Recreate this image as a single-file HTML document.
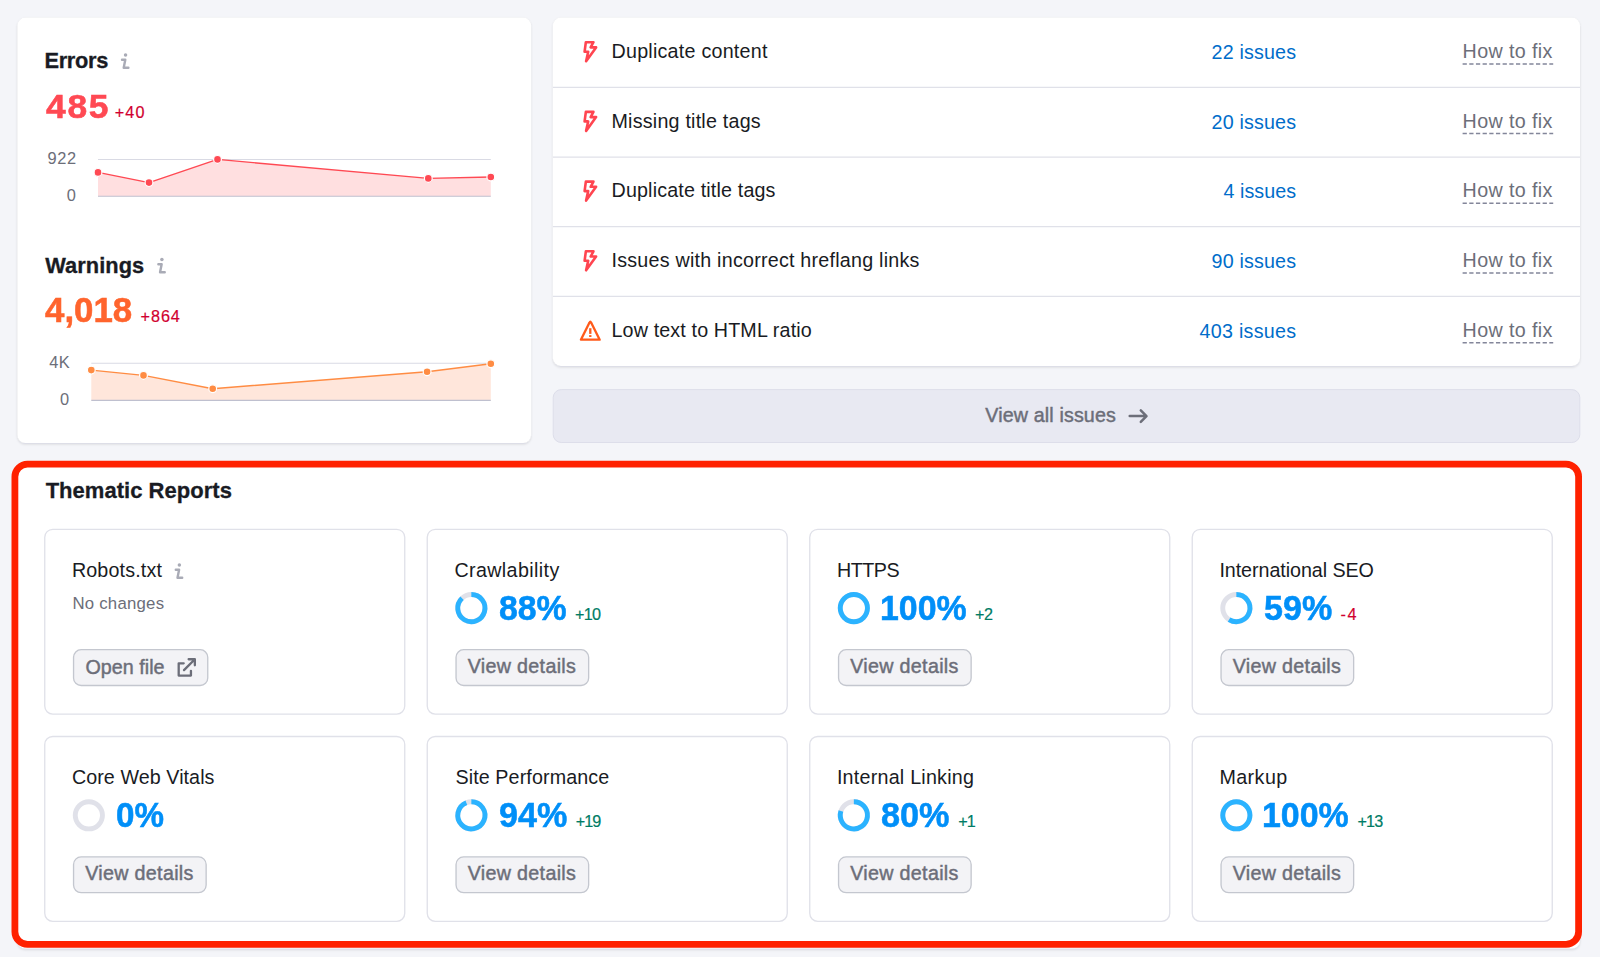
<!DOCTYPE html>
<html lang="en"><head><meta charset="utf-8"><title>Site Audit - Thematic Reports</title>
<style>
html,body{margin:0;padding:0}
body{width:1600px;height:957px;position:relative;overflow:hidden;background:#f4f5f9;font-family:"Liberation Sans",sans-serif;color:#191b23}
.t{position:absolute;white-space:pre;line-height:1;transform-origin:0 50%}
.med{-webkit-text-stroke:0.45px currentColor}
.sm{-webkit-text-stroke:0.2px currentColor}
.bt{-webkit-text-stroke:0.3px currentColor}
.big{-webkit-text-stroke:0.55px currentColor}
svg{position:absolute;left:0;top:0;overflow:visible}
</style></head><body>

<svg width="1600" height="957" viewBox="0 0 1600 957">
<defs><filter id="sh" x="-2%" y="-5%" width="104%" height="112%"><feDropShadow dx="0" dy="0" stdDeviation="0.7" flood-color="#191b23" flood-opacity="0.18"/><feDropShadow dx="0" dy="1.3" stdDeviation="1.2" flood-color="#191b23" flood-opacity="0.13"/></filter></defs>
<rect x="17.4" y="17.6" width="513.70" height="425.40" rx="8" fill="#fff" filter="url(#sh)"/>
<rect x="552.9" y="17.6" width="1027.10" height="348.30" rx="8" fill="#fff" filter="url(#sh)"/>
<line x1="552.9" x2="1580" y1="87.4" y2="87.4" stroke="#e0e1e9" stroke-width="1.33"/>
<line x1="552.9" x2="1580" y1="157.2" y2="157.2" stroke="#e0e1e9" stroke-width="1.33"/>
<line x1="552.9" x2="1580" y1="226.7" y2="226.7" stroke="#e0e1e9" stroke-width="1.33"/>
<line x1="552.9" x2="1580" y1="296.4" y2="296.4" stroke="#e0e1e9" stroke-width="1.33"/>
<rect x="553.2" y="389.6" width="1026.6" height="52.9" rx="8" fill="#e8e9f2" stroke="#dddeea" stroke-width="1"/>
<rect x="17.4" y="466" width="1562.60" height="482.60" rx="8" fill="#fff" filter="url(#sh)"/>
<rect x="14.9" y="464.2" width="1563.7" height="480.1" rx="12.6" fill="none" stroke="#ff2100" stroke-width="6.8"/>
<rect x="44.75" y="529.30" width="360" height="184.8" rx="8" fill="#fff" stroke="#e0e1e9" stroke-width="1.33"/>
<rect x="73.55" y="649.70" width="134.2" height="35.8" rx="7.6" fill="#f3f3f6" stroke="#c4c7cf" stroke-width="1.33"/>
<rect x="427.25" y="529.30" width="360" height="184.8" rx="8" fill="#fff" stroke="#e0e1e9" stroke-width="1.33"/>
<rect x="456.05" y="649.70" width="132.6" height="35.8" rx="7.6" fill="#f3f3f6" stroke="#c4c7cf" stroke-width="1.33"/>
<rect x="809.75" y="529.30" width="360" height="184.8" rx="8" fill="#fff" stroke="#e0e1e9" stroke-width="1.33"/>
<rect x="838.55" y="649.70" width="132.6" height="35.8" rx="7.6" fill="#f3f3f6" stroke="#c4c7cf" stroke-width="1.33"/>
<rect x="1192.25" y="529.30" width="360" height="184.8" rx="8" fill="#fff" stroke="#e0e1e9" stroke-width="1.33"/>
<rect x="1221.05" y="649.70" width="132.6" height="35.8" rx="7.6" fill="#f3f3f6" stroke="#c4c7cf" stroke-width="1.33"/>
<rect x="44.75" y="736.50" width="360" height="184.8" rx="8" fill="#fff" stroke="#e0e1e9" stroke-width="1.33"/>
<rect x="73.55" y="856.90" width="132.6" height="35.8" rx="7.6" fill="#f3f3f6" stroke="#c4c7cf" stroke-width="1.33"/>
<rect x="427.25" y="736.50" width="360" height="184.8" rx="8" fill="#fff" stroke="#e0e1e9" stroke-width="1.33"/>
<rect x="456.05" y="856.90" width="132.6" height="35.8" rx="7.6" fill="#f3f3f6" stroke="#c4c7cf" stroke-width="1.33"/>
<rect x="809.75" y="736.50" width="360" height="184.8" rx="8" fill="#fff" stroke="#e0e1e9" stroke-width="1.33"/>
<rect x="838.55" y="856.90" width="132.6" height="35.8" rx="7.6" fill="#f3f3f6" stroke="#c4c7cf" stroke-width="1.33"/>
<rect x="1192.25" y="736.50" width="360" height="184.8" rx="8" fill="#fff" stroke="#e0e1e9" stroke-width="1.33"/>
<rect x="1221.05" y="856.90" width="132.6" height="35.8" rx="7.6" fill="#f3f3f6" stroke="#c4c7cf" stroke-width="1.33"/>
<line x1="98" y1="159.5" x2="490.8" y2="159.5" stroke="#d9dae4" stroke-width="1.1"/>
<polygon points="98,196.2 98,172.4 149,182.6 217.5,159.4 428.3,178.4 490.8,177 490.8,196.2" fill="#ffdfe0"/>
<line x1="98" y1="196.2" x2="490.8" y2="196.2" stroke="#bfc0cf" stroke-width="1.15"/>
<polyline points="98,172.4 149,182.6 217.5,159.4 428.3,178.4 490.8,177" fill="none" stroke="#ff4953" stroke-width="1.4" stroke-linejoin="round"/>
<circle cx="98" cy="172.4" r="3.9" fill="#ff4953" stroke="#fff" stroke-width="1.2"/>
<circle cx="149" cy="182.6" r="3.9" fill="#ff4953" stroke="#fff" stroke-width="1.2"/>
<circle cx="217.5" cy="159.4" r="3.9" fill="#ff4953" stroke="#fff" stroke-width="1.2"/>
<circle cx="428.3" cy="178.4" r="3.9" fill="#ff4953" stroke="#fff" stroke-width="1.2"/>
<circle cx="490.8" cy="177" r="3.9" fill="#ff4953" stroke="#fff" stroke-width="1.2"/>
<line x1="91.3" y1="363.3" x2="490.8" y2="363.3" stroke="#d9dae4" stroke-width="1.1"/>
<polygon points="91.3,400.4 91.3,370.1 143.5,375.4 212.7,388.7 427.1,371.8 490.8,363.7 490.8,400.4" fill="#ffe6db"/>
<line x1="91.3" y1="400.4" x2="490.8" y2="400.4" stroke="#bfc0cf" stroke-width="1.15"/>
<polyline points="91.3,370.1 143.5,375.4 212.7,388.7 427.1,371.8 490.8,363.7" fill="none" stroke="#ff8c43" stroke-width="1.4" stroke-linejoin="round"/>
<circle cx="91.3" cy="370.1" r="3.9" fill="#ff8c43" stroke="#fff" stroke-width="1.2"/>
<circle cx="143.5" cy="375.4" r="3.9" fill="#ff8c43" stroke="#fff" stroke-width="1.2"/>
<circle cx="212.7" cy="388.7" r="3.9" fill="#ff8c43" stroke="#fff" stroke-width="1.2"/>
<circle cx="427.1" cy="371.8" r="3.9" fill="#ff8c43" stroke="#fff" stroke-width="1.2"/>
<circle cx="490.8" cy="363.7" r="3.9" fill="#ff8c43" stroke="#fff" stroke-width="1.2"/>
<g transform="translate(0,0)" fill="none" stroke="#a9abb6" stroke-width="2.4" stroke-linecap="round" stroke-linejoin="round"><circle cx="125.55" cy="55" r="1.75" fill="#a9abb6" stroke="none"/><path d="M122 59.8H125.3L123.7 67.8H128.4"/></g>
<g transform="translate(36.35,204.4)" fill="none" stroke="#a9abb6" stroke-width="2.4" stroke-linecap="round" stroke-linejoin="round"><circle cx="125.55" cy="55" r="1.75" fill="#a9abb6" stroke="none"/><path d="M122 59.8H125.3L123.7 67.8H128.4"/></g>
<g transform="translate(53.8,509.9)" fill="none" stroke="#a9abb6" stroke-width="2.4" stroke-linecap="round" stroke-linejoin="round"><circle cx="125.55" cy="55" r="1.75" fill="#a9abb6" stroke="none"/><path d="M122 59.8H125.3L123.7 67.8H128.4"/></g>
<path transform="translate(0,0.0)" d="M585.85 42.2H593.45L590.65 47.4H596.1L586.1 61.2L588.2 51.7H584.6Z" fill="none" stroke="#ff4550" stroke-width="2.6" stroke-linejoin="round"/>
<path transform="translate(0,69.7)" d="M585.85 42.2H593.45L590.65 47.4H596.1L586.1 61.2L588.2 51.7H584.6Z" fill="none" stroke="#ff4550" stroke-width="2.6" stroke-linejoin="round"/>
<path transform="translate(0,139.4)" d="M585.85 42.2H593.45L590.65 47.4H596.1L586.1 61.2L588.2 51.7H584.6Z" fill="none" stroke="#ff4550" stroke-width="2.6" stroke-linejoin="round"/>
<path transform="translate(0,209.1)" d="M585.85 42.2H593.45L590.65 47.4H596.1L586.1 61.2L588.2 51.7H584.6Z" fill="none" stroke="#ff4550" stroke-width="2.6" stroke-linejoin="round"/>
<path d="M589.5 322.6Q590.3 320.7 591.1 322.6L599.7 339.7H580.9Z" fill="none" stroke="#ff5a1a" stroke-width="2.3" stroke-linejoin="round"/>
<rect x="589.15" y="328.2" width="2.3" height="5.7" fill="#ff5a1a"/><rect x="589.15" y="335.1" width="2.3" height="1.9" fill="#ff5a1a"/>
<path d="M1129.7 416.05H1146.3M1140.8 410.3L1146.5 416.05L1140.8 421.8" fill="none" stroke="#6c6e79" stroke-width="2.5" stroke-linecap="round" stroke-linejoin="round"/>
<path d="M183.7 663.3H178.7V675.6H190.95V670.8M184 670.1L194.6 659.5M188.65 659.25H194.85V665.3" fill="none" stroke="#6c6e79" stroke-width="2.3" stroke-linecap="round" stroke-linejoin="round"/>
<line x1="1462.6" x2="1553.2" y1="63.90" y2="63.90" stroke="#83869a" stroke-width="1.5" stroke-dasharray="4.25 2.42"/>
<line x1="1462.6" x2="1553.2" y1="133.60" y2="133.60" stroke="#83869a" stroke-width="1.5" stroke-dasharray="4.25 2.42"/>
<line x1="1462.6" x2="1553.2" y1="203.30" y2="203.30" stroke="#83869a" stroke-width="1.5" stroke-dasharray="4.25 2.42"/>
<line x1="1462.6" x2="1553.2" y1="273.00" y2="273.00" stroke="#83869a" stroke-width="1.5" stroke-dasharray="4.25 2.42"/>
<line x1="1462.6" x2="1553.2" y1="342.70" y2="342.70" stroke="#83869a" stroke-width="1.5" stroke-dasharray="4.25 2.42"/>
<circle cx="471.35" cy="608.10" r="13.6" fill="none" stroke="#e0e1e9" stroke-width="4.9"/>
<path d="M471.35 594.50A13.6 13.6 0 1 1 462.04 598.19" fill="none" stroke="#2bb3ff" stroke-width="4.9"/>
<circle cx="853.85" cy="608.10" r="13.6" fill="none" stroke="#e0e1e9" stroke-width="4.9"/>
<circle cx="853.85" cy="608.10" r="13.6" fill="none" stroke="#2bb3ff" stroke-width="4.9"/>
<circle cx="1236.35" cy="608.10" r="13.6" fill="none" stroke="#e0e1e9" stroke-width="4.9"/>
<path d="M1236.35 594.50A13.6 13.6 0 1 1 1229.06 619.58" fill="none" stroke="#2bb3ff" stroke-width="4.9"/>
<circle cx="88.85" cy="815.30" r="13.6" fill="none" stroke="#e0e1e9" stroke-width="4.9"/>
<circle cx="471.35" cy="815.30" r="13.6" fill="none" stroke="#e0e1e9" stroke-width="4.9"/>
<path d="M471.35 801.70A13.6 13.6 0 1 1 466.34 802.66" fill="none" stroke="#2bb3ff" stroke-width="4.9"/>
<circle cx="853.85" cy="815.30" r="13.6" fill="none" stroke="#e0e1e9" stroke-width="4.9"/>
<path d="M853.85 801.70A13.6 13.6 0 1 1 840.92 811.10" fill="none" stroke="#2bb3ff" stroke-width="4.9"/>
<circle cx="1236.35" cy="815.30" r="13.6" fill="none" stroke="#e0e1e9" stroke-width="4.9"/>
<circle cx="1236.35" cy="815.30" r="13.6" fill="none" stroke="#2bb3ff" stroke-width="4.9"/>
</svg>
<span class="t bt" style="top:50.00px;font-size:21.8px;color:#191b23;font-weight:700;left:44.40px;letter-spacing:-0.280px;">Errors</span>
<span class="t big" style="top:89.00px;font-size:34px;color:#ff4953;font-weight:700;letter-spacing:1.638px;left:45.65px;transform:scaleX(1.0407);">485</span>
<span class="t sm" style="top:104.00px;font-size:16.2px;color:#d1002f;left:114.80px;letter-spacing:1.072px;">+40</span>
<span class="t" style="top:150.00px;font-size:16.4px;color:#6c6e79;left:47.40px;letter-spacing:0.684px;">922</span>
<span class="t" style="top:187.00px;font-size:16.4px;color:#6c6e79;left:66.80px;letter-spacing:0.200px;">0</span>
<span class="t bt" style="top:255.00px;font-size:21.8px;color:#191b23;font-weight:700;left:45.15px;letter-spacing:0.083px;">Warnings</span>
<span class="t big" style="top:293.00px;font-size:34.5px;color:#ff642d;font-weight:700;left:45.35px;transform:scaleX(1.0099);">4,018</span>
<span class="t sm" style="top:308.00px;font-size:16.2px;color:#d1002f;left:140.60px;letter-spacing:0.914px;">+864</span>
<span class="t" style="top:354.00px;font-size:16.4px;color:#6c6e79;left:49.30px;letter-spacing:0.284px;">4K</span>
<span class="t" style="top:391.00px;font-size:16.4px;color:#6c6e79;left:60.00px;letter-spacing:0.700px;">0</span>
<span class="t" style="top:42.00px;font-size:19.7px;color:#191b23;left:611.50px;letter-spacing:0.234px;">Duplicate content</span>
<span class="t" style="top:43.00px;font-size:19.7px;color:#006dca;left:1211.60px;letter-spacing:0.159px;">22 issues</span>
<span class="t" style="top:42.00px;font-size:19.7px;color:#6c6e79;left:1462.60px;letter-spacing:0.368px;">How to fix</span>
<span class="t" style="top:112.00px;font-size:19.7px;color:#191b23;left:611.50px;letter-spacing:0.213px;">Missing title tags</span>
<span class="t" style="top:113.00px;font-size:19.7px;color:#006dca;left:1211.60px;letter-spacing:0.159px;">20 issues</span>
<span class="t" style="top:112.00px;font-size:19.7px;color:#6c6e79;left:1462.60px;letter-spacing:0.368px;">How to fix</span>
<span class="t" style="top:181.00px;font-size:19.7px;color:#191b23;left:611.50px;letter-spacing:0.162px;">Duplicate title tags</span>
<span class="t" style="top:182.00px;font-size:19.7px;color:#006dca;left:1223.50px;letter-spacing:0.046px;">4 issues</span>
<span class="t" style="top:181.00px;font-size:19.7px;color:#6c6e79;left:1462.60px;letter-spacing:0.368px;">How to fix</span>
<span class="t" style="top:251.00px;font-size:19.7px;color:#191b23;left:611.50px;letter-spacing:0.229px;">Issues with incorrect hreflang links</span>
<span class="t" style="top:252.00px;font-size:19.7px;color:#006dca;left:1211.60px;letter-spacing:0.159px;">90 issues</span>
<span class="t" style="top:251.00px;font-size:19.7px;color:#6c6e79;left:1462.60px;letter-spacing:0.368px;">How to fix</span>
<span class="t" style="top:321.00px;font-size:19.7px;color:#191b23;left:611.50px;letter-spacing:0.139px;">Low text to HTML ratio</span>
<span class="t" style="top:322.00px;font-size:19.7px;color:#006dca;left:1199.50px;letter-spacing:0.269px;">403 issues</span>
<span class="t" style="top:321.00px;font-size:19.7px;color:#6c6e79;left:1462.60px;letter-spacing:0.368px;">How to fix</span>
<span class="t med" style="top:406.00px;font-size:19.7px;color:#6c6e79;left:985.30px;letter-spacing:0.128px;">View all issues</span>
<span class="t bt" style="top:480.00px;font-size:22px;color:#191b23;font-weight:700;left:45.65px;letter-spacing:0.031px;">Thematic Reports</span>
<span class="t" style="top:561.00px;font-size:19.7px;color:#191b23;left:71.90px;letter-spacing:0.149px;">Robots.txt</span>
<span class="t" style="top:561.00px;font-size:19.7px;color:#191b23;left:454.40px;letter-spacing:0.381px;">Crawlability</span>
<span class="t big" style="top:591.00px;font-size:35.5px;color:#008ff8;font-weight:700;left:498.95px;transform:scaleX(0.9527);">88%</span>
<span class="t sm" style="top:606.00px;font-size:16.2px;color:#007c65;left:575.05px;letter-spacing:-0.728px;">+10</span>
<span class="t med" style="top:657.00px;font-size:19.7px;color:#6c6e79;left:467.65px;letter-spacing:0.323px;">View details</span>
<span class="t" style="top:561.00px;font-size:19.7px;color:#191b23;left:836.90px;letter-spacing:-0.450px;">HTTPS</span>
<span class="t big" style="top:591.00px;font-size:35.5px;color:#008ff8;font-weight:700;left:879.89px;transform:scaleX(0.9543);">100%</span>
<span class="t sm" style="top:606.00px;font-size:16.2px;color:#007c65;left:974.95px;letter-spacing:-0.453px;">+2</span>
<span class="t med" style="top:657.00px;font-size:19.7px;color:#6c6e79;left:850.15px;letter-spacing:0.323px;">View details</span>
<span class="t" style="top:561.00px;font-size:19.7px;color:#191b23;left:1219.40px;letter-spacing:-0.056px;">International SEO</span>
<span class="t big" style="top:591.00px;font-size:35.5px;color:#008ff8;font-weight:700;left:1263.94px;transform:scaleX(0.9599);">59%</span>
<span class="t sm" style="top:606.00px;font-size:16.2px;color:#d1002f;left:1340.55px;letter-spacing:1.609px;">-4</span>
<span class="t med" style="top:657.00px;font-size:19.7px;color:#6c6e79;left:1232.65px;letter-spacing:0.323px;">View details</span>
<span class="t" style="top:768.00px;font-size:19.7px;color:#191b23;left:71.90px;letter-spacing:0.073px;">Core Web Vitals</span>
<span class="t big" style="top:798.00px;font-size:35.5px;color:#008ff8;font-weight:700;left:116.47px;transform:scaleX(0.9348);">0%</span>
<span class="t med" style="top:864.00px;font-size:19.7px;color:#6c6e79;left:85.15px;letter-spacing:0.323px;">View details</span>
<span class="t" style="top:768.00px;font-size:19.7px;color:#191b23;left:455.40px;letter-spacing:0.117px;">Site Performance</span>
<span class="t big" style="top:798.00px;font-size:35.5px;color:#008ff8;font-weight:700;left:498.94px;transform:scaleX(0.9613);">94%</span>
<span class="t sm" style="top:813.00px;font-size:16.2px;color:#007c65;left:575.65px;letter-spacing:-0.878px;">+19</span>
<span class="t med" style="top:864.00px;font-size:19.7px;color:#6c6e79;left:467.65px;letter-spacing:0.323px;">View details</span>
<span class="t" style="top:768.00px;font-size:19.7px;color:#191b23;left:836.90px;letter-spacing:0.235px;">Internal Linking</span>
<span class="t big" style="top:798.00px;font-size:35.5px;color:#008ff8;font-weight:700;left:881.44px;transform:scaleX(0.9642);">80%</span>
<span class="t sm" style="top:813.00px;font-size:16.2px;color:#007c65;left:958.35px;letter-spacing:-1.100px;">+1</span>
<span class="t med" style="top:864.00px;font-size:19.7px;color:#6c6e79;left:850.15px;letter-spacing:0.323px;">View details</span>
<span class="t" style="top:768.00px;font-size:19.7px;color:#191b23;left:1219.40px;letter-spacing:0.440px;">Markup</span>
<span class="t big" style="top:798.00px;font-size:35.5px;color:#008ff8;font-weight:700;left:1262.39px;transform:scaleX(0.9555);">100%</span>
<span class="t sm" style="top:813.00px;font-size:16.2px;color:#007c65;left:1357.55px;letter-spacing:-0.878px;">+13</span>
<span class="t med" style="top:864.00px;font-size:19.7px;color:#6c6e79;left:1232.65px;letter-spacing:0.323px;">View details</span>
<span class="t" style="top:596.00px;font-size:16.8px;color:#6c6e79;left:72.40px;letter-spacing:0.237px;">No changes</span>
<span class="t med" style="top:658.00px;font-size:19.7px;color:#6c6e79;left:85.50px;letter-spacing:0.031px;">Open file</span>

</body></html>
